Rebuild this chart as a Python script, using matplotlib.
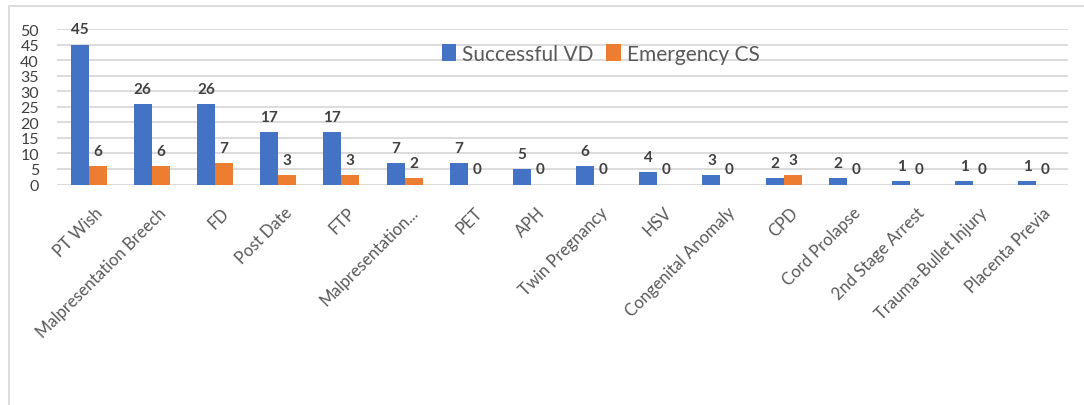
import matplotlib
matplotlib.use("Agg")
import matplotlib.pyplot as plt
import matplotlib.transforms as mtransforms
from matplotlib.patches import Rectangle
import numpy as np

categories = ["PT Wish", "Malpresentation Breech", "FD", "Post Date", "FTP",
              "Malpresentation...", "PET", "APH", "Twin Pregnancy", "HSV",
              "Congenital Anomaly", "CPD", "Cord Prolapse", "2nd Stage Arrest",
              "Trauma-Bullet Injury", "Placenta Previa"]
successful_vd = [45, 26, 26, 17, 17, 7, 7, 5, 6, 4, 3, 2, 2, 1, 1, 1]
emergency_cs = [6, 6, 7, 3, 3, 2, 0, 0, 0, 0, 0, 3, 0, 0, 0, 0]
yticks = [0, 5, 10, 15, 20, 25, 30, 35, 40, 45, 50]

BLUE = "#4472C4"
ORANGE = "#ED7D31"
GRID = "#D9D9D9"
TEXT = "#595959"

plt.rcParams["font.family"] = ["Lato", "DejaVu Sans"]

W, H = 1084, 406
fig = plt.figure(figsize=(W / 100, H / 100), dpi=100)
ax = fig.add_axes([57 / W, 1 - 185.5 / H, (1068 - 57) / W, (185.5 - 30) / H])

x = np.arange(len(categories))
bw = 0.285
b1 = ax.bar(x - bw / 2, successful_vd, bw, color=BLUE, label="Successful VD", zorder=3)
b2 = ax.bar(x + bw / 2, emergency_cs, bw, color=ORANGE, label="Emergency CS", zorder=3)

for bars, vals in ((b1, successful_vd), (b2, emergency_cs)):
    for rect, v in zip(bars, vals):
        ax.annotate(str(v), (rect.get_x() + rect.get_width() / 2, v),
                    xytext=(0, 8), textcoords="offset points",
                    ha="center", va="baseline", fontsize=11,
                    fontweight="bold", color="#404040")

ax.set_xlim(-0.5, len(categories) - 0.5)
ax.set_ylim(0, 50)
ax.set_yticks(yticks)
ax.yaxis.grid(True, color=GRID, linewidth=1.3, zorder=0)
ax.set_axisbelow(True)
for s in ax.spines.values():
    s.set_visible(False)
ax.tick_params(axis="both", length=0)
ax.tick_params(axis="y", labelsize=11.5, labelcolor="#404040", pad=13)
ax.set_xticks(x)
ax.set_xticklabels(categories, rotation=45, ha="right", rotation_mode="anchor",
                   fontsize=12, color=TEXT)
ax.tick_params(axis="x", pad=14)
shift = mtransforms.ScaledTranslation(6 / 100, 0, fig.dpi_scale_trans)
for lbl in ax.get_xticklabels():
    lbl.set_transform(lbl.get_transform() + shift)

ax.legend(loc="center", bbox_to_anchor=(0.538, 0.84), ncol=2,
          frameon=False, fontsize=15, handlelength=0.7, handleheight=0.9,
          handletextpad=0.3, columnspacing=0.6, labelcolor=TEXT)

# outer chart border
fig.patches.append(Rectangle((9 / W, -0.1), 1.1, 1 - 7 / H + 0.1,
                             transform=fig.transFigure, fill=False,
                             edgecolor=GRID, linewidth=1.3))

fig.savefig("out.png", dpi=100)
